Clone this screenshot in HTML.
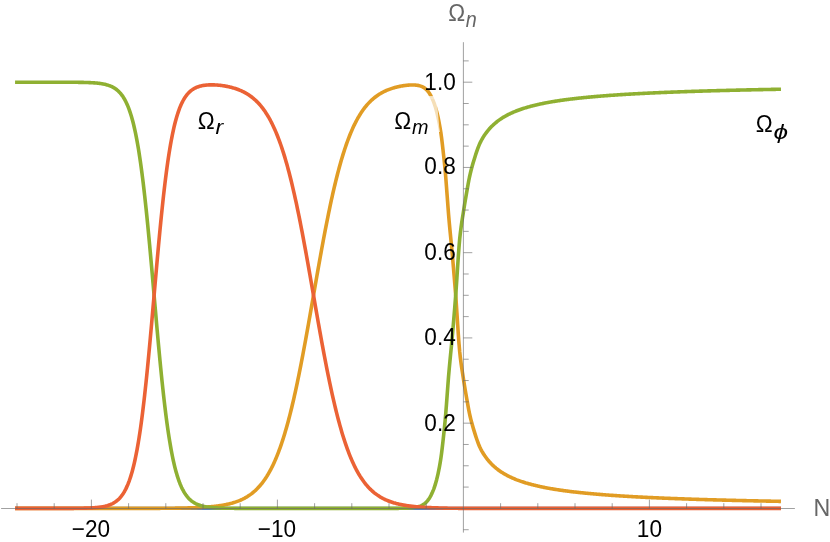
<!DOCTYPE html>
<html><head><meta charset="utf-8"><title>Plot</title>
<style>
html,body{margin:0;padding:0;background:#fff;}
body{width:830px;height:542px;overflow:hidden;position:relative;font-family:"Liberation Sans",sans-serif;}
svg{position:absolute;left:0;top:0;}
text{font-family:"Liberation Sans",sans-serif;}
</style></head><body>
<svg width="830" height="542" viewBox="0 0 830 542">
<rect width="830" height="542" fill="#fff"/>
<g fill="none" stroke-width="3.6" stroke-linejoin="round" stroke-linecap="butt">
<path d="M15.06,508.40 L780.97,508.40" stroke="#5E81B5" stroke-width="3.4"/>
<path d="M15.06,508.40 L15.76,508.40 L16.45,508.40 L17.15,508.40 L17.85,508.40 L18.55,508.40 L19.24,508.40 L19.94,508.40 L20.64,508.40 L21.33,508.40 L22.03,508.40 L22.73,508.40 L23.42,508.40 L24.12,508.40 L24.82,508.40 L25.51,508.40 L26.21,508.40 L26.91,508.40 L27.61,508.40 L28.30,508.40 L29.00,508.40 L29.70,508.40 L30.39,508.40 L31.09,508.40 L31.79,508.40 L32.48,508.40 L33.18,508.40 L33.88,508.40 L34.57,508.40 L35.27,508.40 L35.97,508.40 L36.67,508.40 L37.36,508.40 L38.06,508.40 L38.76,508.40 L39.45,508.40 L40.15,508.40 L40.85,508.40 L41.54,508.40 L42.24,508.40 L42.94,508.40 L43.63,508.40 L44.33,508.40 L45.03,508.40 L45.73,508.40 L46.42,508.40 L47.12,508.40 L47.82,508.40 L48.51,508.40 L49.21,508.40 L49.91,508.40 L50.60,508.40 L51.30,508.40 L52.00,508.40 L52.69,508.40 L53.39,508.40 L54.09,508.40 L54.79,508.40 L55.48,508.40 L56.18,508.40 L56.88,508.40 L57.57,508.40 L58.27,508.40 L58.97,508.40 L59.66,508.40 L60.36,508.40 L61.06,508.40 L61.75,508.40 L62.45,508.40 L63.15,508.40 L63.85,508.40 L64.54,508.40 L65.24,508.40 L65.94,508.40 L66.63,508.40 L67.33,508.40 L68.03,508.40 L68.72,508.40 L69.42,508.40 L70.12,508.40 L70.81,508.40 L71.51,508.40 L72.21,508.40 L72.91,508.40 L73.60,508.40 L74.30,508.40 L75.00,508.40 L75.69,508.40 L76.39,508.40 L77.09,508.40 L77.78,508.40 L78.48,508.40 L79.18,508.40 L79.87,508.40 L80.57,508.40 L81.27,508.40 L81.96,508.40 L82.66,508.40 L83.36,508.40 L84.06,508.40 L84.75,508.40 L85.45,508.40 L86.15,508.40 L86.84,508.40 L87.54,508.40 L88.24,508.40 L88.93,508.40 L89.63,508.40 L90.33,508.40 L91.02,508.40 L91.72,508.40 L92.42,508.40 L93.12,508.40 L93.81,508.40 L94.51,508.40 L95.21,508.40 L95.90,508.40 L96.60,508.40 L97.30,508.40 L97.99,508.40 L98.69,508.40 L99.39,508.40 L100.08,508.40 L100.78,508.40 L101.48,508.40 L102.18,508.40 L102.87,508.40 L103.57,508.40 L104.27,508.40 L104.96,508.40 L105.66,508.40 L106.36,508.40 L107.05,508.40 L107.75,508.40 L108.45,508.40 L109.14,508.40 L109.84,508.40 L110.54,508.40 L111.24,508.40 L111.93,508.40 L112.63,508.40 L113.33,508.40 L114.02,508.40 L114.72,508.40 L115.42,508.40 L116.11,508.40 L116.81,508.40 L117.51,508.40 L118.20,508.40 L118.90,508.40 L119.60,508.40 L120.30,508.40 L120.99,508.40 L121.69,508.40 L122.39,508.40 L123.08,508.40 L123.78,508.40 L124.48,508.40 L125.17,508.40 L125.87,508.40 L126.57,508.40 L127.26,508.40 L127.96,508.40 L128.66,508.40 L129.36,508.40 L130.05,508.40 L130.75,508.40 L131.45,508.40 L132.14,508.40 L132.84,508.40 L133.54,508.40 L134.23,508.40 L134.93,508.40 L135.63,508.40 L136.32,508.40 L137.02,508.40 L137.72,508.40 L138.42,508.39 L139.11,508.39 L139.81,508.39 L140.51,508.39 L141.20,508.39 L141.90,508.39 L142.60,508.39 L143.29,508.39 L143.99,508.39 L144.69,508.39 L145.38,508.39 L146.08,508.38 L146.78,508.38 L147.48,508.38 L148.17,508.38 L148.87,508.38 L149.57,508.38 L150.26,508.37 L150.96,508.37 L151.66,508.37 L152.35,508.37 L153.05,508.36 L153.75,508.36 L154.44,508.36 L155.14,508.35 L155.84,508.35 L156.53,508.35 L157.23,508.34 L157.93,508.34 L158.63,508.34 L159.32,508.33 L160.02,508.33 L160.72,508.32 L161.41,508.32 L162.11,508.31 L162.81,508.31 L163.50,508.30 L164.20,508.30 L164.90,508.29 L165.59,508.28 L166.29,508.28 L166.99,508.27 L167.69,508.26 L168.38,508.26 L169.08,508.25 L169.78,508.24 L170.47,508.23 L171.17,508.23 L171.87,508.22 L172.56,508.21 L173.26,508.20 L173.96,508.19 L174.65,508.18 L175.35,508.17 L176.05,508.16 L176.75,508.15 L177.44,508.14 L178.14,508.13 L178.84,508.11 L179.53,508.10 L180.23,508.09 L180.93,508.08 L181.62,508.06 L182.32,508.05 L183.02,508.03 L183.71,508.02 L184.41,508.00 L185.11,507.99 L185.81,507.97 L186.50,507.95 L187.20,507.93 L187.90,507.92 L188.59,507.90 L189.29,507.88 L189.99,507.86 L190.68,507.83 L191.38,507.81 L192.08,507.79 L192.77,507.76 L193.47,507.74 L194.17,507.71 L194.87,507.69 L195.56,507.66 L196.26,507.63 L196.96,507.60 L197.65,507.57 L198.35,507.54 L199.05,507.50 L199.74,507.47 L200.44,507.43 L201.14,507.39 L201.83,507.36 L202.53,507.32 L203.23,507.27 L203.93,507.23 L204.62,507.19 L205.32,507.14 L206.02,507.09 L206.71,507.04 L207.41,506.99 L208.11,506.93 L208.80,506.88 L209.50,506.82 L210.20,506.76 L210.89,506.70 L211.59,506.63 L212.29,506.56 L212.99,506.49 L213.68,506.42 L214.38,506.35 L215.08,506.27 L215.77,506.19 L216.47,506.10 L217.17,506.02 L217.86,505.92 L218.56,505.83 L219.26,505.73 L219.95,505.63 L220.65,505.53 L221.35,505.42 L222.05,505.30 L222.74,505.19 L223.44,505.06 L224.14,504.94 L224.83,504.81 L225.53,504.67 L226.23,504.53 L226.92,504.38 L227.62,504.23 L228.32,504.07 L229.01,503.91 L229.71,503.74 L230.41,503.56 L231.10,503.38 L231.80,503.19 L232.50,503.00 L233.20,502.79 L233.89,502.58 L234.59,502.36 L235.29,502.13 L235.98,501.90 L236.68,501.65 L237.38,501.40 L238.07,501.14 L238.77,500.87 L239.47,500.58 L240.16,500.29 L240.86,499.99 L241.56,499.67 L242.26,499.35 L242.95,499.01 L243.65,498.66 L244.35,498.30 L245.04,497.92 L245.74,497.53 L246.44,497.12 L247.13,496.71 L247.83,496.27 L248.53,495.82 L249.22,495.36 L249.92,494.87 L250.62,494.38 L251.32,493.86 L252.01,493.32 L252.71,492.77 L253.41,492.19 L254.10,491.60 L254.80,490.98 L255.50,490.35 L256.19,489.69 L256.89,489.01 L257.59,488.30 L258.28,487.57 L258.98,486.82 L259.68,486.04 L260.38,485.23 L261.07,484.39 L261.77,483.53 L262.47,482.64 L263.16,481.72 L263.86,480.76 L264.56,479.78 L265.25,478.76 L265.95,477.71 L266.65,476.63 L267.34,475.51 L268.04,474.35 L268.74,473.16 L269.44,471.93 L270.13,470.66 L270.83,469.35 L271.53,468.00 L272.22,466.61 L272.92,465.18 L273.62,463.70 L274.31,462.18 L275.01,460.61 L275.71,459.00 L276.40,457.34 L277.10,455.63 L277.80,453.87 L278.50,452.07 L279.19,450.21 L279.89,448.30 L280.59,446.34 L281.28,444.33 L281.98,442.26 L282.68,440.14 L283.37,437.97 L284.07,435.73 L284.77,433.45 L285.46,431.11 L286.16,428.71 L286.86,426.25 L287.56,423.74 L288.25,421.17 L288.95,418.54 L289.65,415.85 L290.34,413.11 L291.04,410.31 L291.74,407.45 L292.43,404.53 L293.13,401.56 L293.83,398.54 L294.52,395.45 L295.22,392.31 L295.92,389.12 L296.62,385.88 L297.31,382.58 L298.01,379.23 L298.71,375.84 L299.40,372.39 L300.10,368.90 L300.80,365.36 L301.49,361.78 L302.19,358.15 L302.89,354.49 L303.58,350.78 L304.28,347.04 L304.98,343.27 L305.68,339.46 L306.37,335.63 L307.07,331.77 L307.77,327.88 L308.46,323.97 L309.16,320.04 L309.86,316.09 L310.55,312.13 L311.25,308.16 L311.95,304.18 L312.64,300.19 L313.34,296.20 L314.04,292.21 L314.73,288.22 L315.43,284.23 L316.13,280.25 L316.83,276.29 L317.52,272.33 L318.22,268.40 L318.92,264.48 L319.61,260.58 L320.31,256.71 L321.01,252.86 L321.70,249.04 L322.40,245.25 L323.10,241.50 L323.79,237.78 L324.49,234.09 L325.19,230.45 L325.89,226.85 L326.58,223.29 L327.28,219.78 L327.98,216.31 L328.67,212.89 L329.37,209.52 L330.07,206.20 L330.76,202.93 L331.46,199.72 L332.16,196.55 L332.85,193.45 L333.55,190.39 L334.25,187.40 L334.95,184.46 L335.64,181.57 L336.34,178.75 L337.04,175.98 L337.73,173.26 L338.43,170.61 L339.13,168.01 L339.82,165.47 L340.52,162.99 L341.22,160.57 L341.91,158.20 L342.61,155.89 L343.31,153.63 L344.01,151.43 L344.70,149.29 L345.40,147.20 L346.10,145.16 L346.79,143.17 L347.49,141.24 L348.19,139.36 L348.88,137.53 L349.58,135.75 L350.28,134.02 L350.97,132.34 L351.67,130.71 L352.37,129.12 L353.07,127.58 L353.76,126.08 L354.46,124.63 L355.16,123.22 L355.85,121.85 L356.55,120.52 L357.25,119.24 L357.94,117.99 L358.64,116.78 L359.34,115.61 L360.03,114.47 L360.73,113.37 L361.43,112.31 L362.13,111.28 L362.82,110.28 L363.52,109.31 L364.22,108.37 L364.91,107.47 L365.61,106.59 L366.31,105.75 L367.00,104.93 L367.70,104.13 L368.40,103.37 L369.09,102.63 L369.79,101.91 L370.49,101.22 L371.19,100.55 L371.88,99.90 L372.58,99.28 L373.28,98.67 L373.97,98.09 L374.67,97.53 L375.37,96.98 L376.06,96.46 L376.76,95.95 L377.46,95.46 L378.15,94.99 L378.85,94.53 L379.55,94.09 L380.25,93.67 L380.94,93.26 L381.64,92.86 L382.34,92.48 L383.03,92.11 L383.73,91.75 L384.43,91.41 L385.12,91.08 L385.82,90.76 L386.52,90.46 L387.21,90.16 L387.91,89.87 L388.61,89.60 L389.30,89.33 L390.00,89.08 L390.70,88.83 L391.40,88.59 L392.09,88.37 L392.79,88.15 L393.49,87.93 L394.18,87.73 L394.88,87.54 L395.58,87.35 L396.27,87.17 L396.97,86.99 L397.67,86.83 L398.36,86.67 L399.06,86.52 L399.76,86.37 L400.46,86.23 L401.15,86.10 L401.85,85.98 L402.55,85.86 L403.24,85.75 L403.94,85.64 L404.64,85.54 L405.33,85.45 L406.03,85.37 L406.73,85.29 L407.42,85.22 L408.12,85.15 L408.82,85.10 L409.52,85.05 L410.21,85.01 L410.91,84.98 L411.61,84.96 L412.30,84.96 L413.00,84.96 L413.70,84.97 L414.39,85.00 L415.09,85.04 L415.79,85.10 L416.48,85.18 L417.18,85.27 L417.88,85.38 L418.58,85.52 L419.27,85.68 L419.97,85.87 L420.67,86.10 L421.36,86.35 L422.06,86.64 L422.76,86.98 L423.45,87.36 L424.15,87.79 L424.85,88.27 L425.54,88.81 L426.24,89.43 L426.94,90.11 L427.64,90.89 L428.33,91.75 L429.03,92.72 L429.73,93.79 L430.42,94.97 L431.12,96.27 L431.82,97.69 L432.51,99.22 L433.21,100.88 L433.91,102.68 L434.60,104.64 L435.30,106.78 L436.00,109.13 L436.70,111.69 L437.39,114.47 L438.09,117.51 L438.79,120.85 L439.48,124.48 L440.18,128.45 L440.88,132.84 L441.57,137.79 L442.27,143.47 L442.97,149.60 L443.66,155.86 L444.36,162.36 L445.06,169.41 L445.76,177.41 L446.45,186.30 L447.15,195.71 L447.85,205.18 L448.54,214.17 L449.24,222.26 L449.94,229.73 L450.63,236.85 L451.33,243.93 L452.03,251.27 L452.72,259.17 L453.42,267.28 L454.12,275.57 L454.82,284.10 L455.51,292.96 L456.21,302.46 L456.91,312.89 L457.60,323.66 L458.30,334.10 L459.00,343.61 L459.69,351.64 L460.39,358.02 L461.09,363.48 L461.78,368.32 L462.48,372.81 L463.18,377.20 L463.87,381.67 L464.57,386.02 L465.27,390.22 L465.97,394.29 L466.66,398.26 L467.36,402.19 L468.06,406.11 L468.75,409.88 L469.45,413.37 L470.15,416.50 L470.84,419.38 L471.54,422.07 L472.24,424.60 L472.93,427.02 L473.63,429.36 L474.33,431.65 L475.03,433.90 L475.72,436.09 L476.42,438.21 L477.12,440.24 L477.81,442.17 L478.51,444.00 L479.21,445.70 L479.90,447.28 L480.60,448.72 L481.30,450.07 L481.99,451.35 L482.69,452.56 L483.39,453.70 L484.09,454.79 L484.78,455.83 L485.48,456.82 L486.18,457.78 L486.87,458.69 L487.57,459.57 L488.27,460.43 L488.96,461.25 L489.66,462.04 L490.36,462.80 L491.05,463.54 L491.75,464.25 L492.45,464.94 L493.15,465.61 L493.84,466.25 L494.54,466.87 L495.24,467.47 L495.93,468.06 L496.63,468.62 L497.33,469.17 L498.02,469.70 L498.72,470.22 L499.42,470.72 L500.11,471.20 L500.81,471.68 L501.51,472.14 L502.21,472.59 L502.90,473.02 L503.60,473.45 L504.30,473.86 L504.99,474.26 L505.69,474.66 L506.39,475.04 L507.08,475.42 L507.78,475.78 L508.48,476.14 L509.17,476.49 L509.87,476.83 L510.57,477.16 L511.27,477.49 L511.96,477.81 L512.66,478.12 L513.36,478.42 L514.05,478.72 L514.75,479.01 L515.45,479.30 L516.14,479.57 L516.84,479.85 L517.54,480.11 L518.23,480.37 L518.93,480.62 L519.63,480.87 L520.33,481.11 L521.02,481.35 L521.72,481.59 L522.42,481.82 L523.11,482.05 L523.81,482.27 L524.51,482.49 L525.20,482.70 L525.90,482.92 L526.60,483.12 L527.29,483.33 L527.99,483.53 L528.69,483.73 L529.39,483.92 L530.08,484.11 L530.78,484.30 L531.48,484.49 L532.17,484.67 L532.87,484.85 L533.57,485.03 L534.26,485.20 L534.96,485.37 L535.66,485.54 L536.35,485.71 L537.05,485.87 L537.75,486.03 L538.44,486.19 L539.14,486.34 L539.84,486.49 L540.54,486.64 L541.23,486.79 L541.93,486.94 L542.63,487.08 L543.32,487.22 L544.02,487.36 L544.72,487.50 L545.41,487.64 L546.11,487.77 L546.81,487.90 L547.50,488.03 L548.20,488.16 L548.90,488.28 L549.60,488.41 L550.29,488.53 L550.99,488.65 L551.69,488.77 L552.38,488.89 L553.08,489.01 L553.78,489.12 L554.47,489.24 L555.17,489.35 L555.87,489.46 L556.56,489.57 L557.26,489.68 L557.96,489.78 L558.66,489.89 L559.35,489.99 L560.05,490.10 L560.75,490.20 L561.44,490.30 L562.14,490.40 L562.84,490.50 L563.53,490.60 L564.23,490.69 L564.93,490.79 L565.62,490.88 L566.32,490.98 L567.02,491.07 L567.72,491.16 L568.41,491.25 L569.11,491.33 L569.81,491.42 L570.50,491.51 L571.20,491.59 L571.90,491.68 L572.59,491.76 L573.29,491.84 L573.99,491.92 L574.68,492.00 L575.38,492.08 L576.08,492.16 L576.78,492.23 L577.47,492.31 L578.17,492.38 L578.87,492.46 L579.56,492.53 L580.26,492.61 L580.96,492.68 L581.65,492.75 L582.35,492.82 L583.05,492.90 L583.74,492.97 L584.44,493.04 L585.14,493.10 L585.84,493.17 L586.53,493.24 L587.23,493.31 L587.93,493.37 L588.62,493.44 L589.32,493.51 L590.02,493.57 L590.71,493.64 L591.41,493.70 L592.11,493.76 L592.80,493.83 L593.50,493.89 L594.20,493.95 L594.90,494.01 L595.59,494.07 L596.29,494.13 L596.99,494.19 L597.68,494.25 L598.38,494.31 L599.08,494.37 L599.77,494.42 L600.47,494.48 L601.17,494.54 L601.86,494.59 L602.56,494.65 L603.26,494.70 L603.96,494.76 L604.65,494.81 L605.35,494.86 L606.05,494.92 L606.74,494.97 L607.44,495.02 L608.14,495.07 L608.83,495.13 L609.53,495.18 L610.23,495.23 L610.92,495.28 L611.62,495.33 L612.32,495.38 L613.02,495.42 L613.71,495.47 L614.41,495.52 L615.11,495.57 L615.80,495.62 L616.50,495.66 L617.20,495.71 L617.89,495.75 L618.59,495.80 L619.29,495.85 L619.98,495.89 L620.68,495.93 L621.38,495.98 L622.07,496.02 L622.77,496.07 L623.47,496.11 L624.17,496.15 L624.86,496.19 L625.56,496.24 L626.26,496.28 L626.95,496.32 L627.65,496.36 L628.35,496.40 L629.04,496.44 L629.74,496.48 L630.44,496.52 L631.13,496.56 L631.83,496.60 L632.53,496.64 L633.23,496.68 L633.92,496.72 L634.62,496.76 L635.32,496.79 L636.01,496.83 L636.71,496.87 L637.41,496.91 L638.10,496.94 L638.80,496.98 L639.50,497.02 L640.19,497.05 L640.89,497.09 L641.59,497.12 L642.29,497.16 L642.98,497.19 L643.68,497.23 L644.38,497.26 L645.07,497.30 L645.77,497.33 L646.47,497.37 L647.16,497.40 L647.86,497.43 L648.56,497.47 L649.25,497.50 L649.95,497.53 L650.65,497.57 L651.35,497.60 L652.04,497.63 L652.74,497.66 L653.44,497.70 L654.13,497.73 L654.83,497.76 L655.53,497.79 L656.22,497.82 L656.92,497.85 L657.62,497.88 L658.31,497.91 L659.01,497.94 L659.71,497.97 L660.41,498.00 L661.10,498.03 L661.80,498.06 L662.50,498.09 L663.19,498.12 L663.89,498.15 L664.59,498.18 L665.28,498.21 L665.98,498.24 L666.68,498.26 L667.37,498.29 L668.07,498.32 L668.77,498.35 L669.47,498.38 L670.16,498.40 L670.86,498.43 L671.56,498.46 L672.25,498.48 L672.95,498.51 L673.65,498.54 L674.34,498.56 L675.04,498.59 L675.74,498.62 L676.43,498.64 L677.13,498.67 L677.83,498.69 L678.53,498.72 L679.22,498.75 L679.92,498.77 L680.62,498.80 L681.31,498.82 L682.01,498.85 L682.71,498.87 L683.40,498.90 L684.10,498.92 L684.80,498.94 L685.49,498.97 L686.19,498.99 L686.89,499.02 L687.59,499.04 L688.28,499.06 L688.98,499.09 L689.68,499.11 L690.37,499.13 L691.07,499.16 L691.77,499.18 L692.46,499.20 L693.16,499.23 L693.86,499.25 L694.55,499.27 L695.25,499.29 L695.95,499.32 L696.64,499.34 L697.34,499.36 L698.04,499.38 L698.74,499.40 L699.43,499.43 L700.13,499.45 L700.83,499.47 L701.52,499.49 L702.22,499.51 L702.92,499.53 L703.61,499.55 L704.31,499.57 L705.01,499.60 L705.70,499.62 L706.40,499.64 L707.10,499.66 L707.80,499.68 L708.49,499.70 L709.19,499.72 L709.89,499.74 L710.58,499.76 L711.28,499.78 L711.98,499.80 L712.67,499.82 L713.37,499.84 L714.07,499.86 L714.76,499.88 L715.46,499.90 L716.16,499.91 L716.86,499.93 L717.55,499.95 L718.25,499.97 L718.95,499.99 L719.64,500.01 L720.34,500.03 L721.04,500.05 L721.73,500.06 L722.43,500.08 L723.13,500.10 L723.82,500.12 L724.52,500.14 L725.22,500.16 L725.92,500.17 L726.61,500.19 L727.31,500.21 L728.01,500.23 L728.70,500.25 L729.40,500.26 L730.10,500.28 L730.79,500.30 L731.49,500.31 L732.19,500.33 L732.88,500.35 L733.58,500.37 L734.28,500.38 L734.98,500.40 L735.67,500.42 L736.37,500.43 L737.07,500.45 L737.76,500.47 L738.46,500.48 L739.16,500.50 L739.85,500.52 L740.55,500.53 L741.25,500.55 L741.94,500.56 L742.64,500.58 L743.34,500.60 L744.04,500.61 L744.73,500.63 L745.43,500.64 L746.13,500.66 L746.82,500.68 L747.52,500.69 L748.22,500.71 L748.91,500.72 L749.61,500.74 L750.31,500.75 L751.00,500.77 L751.70,500.78 L752.40,500.80 L753.10,500.81 L753.79,500.83 L754.49,500.84 L755.19,500.86 L755.88,500.87 L756.58,500.89 L757.28,500.90 L757.97,500.92 L758.67,500.93 L759.37,500.95 L760.06,500.96 L760.76,500.98 L761.46,500.99 L762.16,501.00 L762.85,501.02 L763.55,501.03 L764.25,501.05 L764.94,501.06 L765.64,501.07 L766.34,501.09 L767.03,501.10 L767.73,501.12 L768.43,501.13 L769.12,501.14 L769.82,501.16 L770.52,501.17 L771.21,501.18 L771.91,501.20 L772.61,501.21 L773.31,501.22 L774.00,501.24 L774.70,501.25 L775.40,501.26 L776.09,501.28 L776.79,501.29 L777.49,501.30 L778.18,501.32 L778.88,501.33 L779.58,501.34 L780.27,501.36 L780.97,501.37" stroke="#E19C24"/>
<path d="M426,95.9 L435,95.9 L437.2,104 L439.2,127 L440.0,132 L432,132 Z" fill="#fff" fill-opacity="0.68" stroke="none"/>
<path d="M427,98.1 L436.5,98.1" stroke="#fff" stroke-opacity="0.55" stroke-width="0.7"/>
<path d="M15.06,82.20 L15.76,82.20 L16.45,82.20 L17.15,82.20 L17.85,82.20 L18.55,82.20 L19.24,82.20 L19.94,82.20 L20.64,82.20 L21.33,82.20 L22.03,82.20 L22.73,82.20 L23.42,82.20 L24.12,82.20 L24.82,82.20 L25.51,82.20 L26.21,82.20 L26.91,82.20 L27.61,82.20 L28.30,82.20 L29.00,82.20 L29.70,82.20 L30.39,82.20 L31.09,82.20 L31.79,82.20 L32.48,82.20 L33.18,82.20 L33.88,82.20 L34.57,82.20 L35.27,82.20 L35.97,82.20 L36.67,82.20 L37.36,82.20 L38.06,82.20 L38.76,82.20 L39.45,82.20 L40.15,82.20 L40.85,82.20 L41.54,82.20 L42.24,82.20 L42.94,82.20 L43.63,82.20 L44.33,82.20 L45.03,82.20 L45.73,82.20 L46.42,82.20 L47.12,82.20 L47.82,82.20 L48.51,82.21 L49.21,82.21 L49.91,82.21 L50.60,82.21 L51.30,82.21 L52.00,82.21 L52.69,82.21 L53.39,82.21 L54.09,82.21 L54.79,82.21 L55.48,82.21 L56.18,82.21 L56.88,82.21 L57.57,82.21 L58.27,82.21 L58.97,82.22 L59.66,82.22 L60.36,82.22 L61.06,82.22 L61.75,82.22 L62.45,82.22 L63.15,82.22 L63.85,82.23 L64.54,82.23 L65.24,82.23 L65.94,82.23 L66.63,82.24 L67.33,82.24 L68.03,82.24 L68.72,82.24 L69.42,82.25 L70.12,82.25 L70.81,82.26 L71.51,82.26 L72.21,82.26 L72.91,82.27 L73.60,82.27 L74.30,82.28 L75.00,82.29 L75.69,82.29 L76.39,82.30 L77.09,82.31 L77.78,82.32 L78.48,82.33 L79.18,82.34 L79.87,82.35 L80.57,82.36 L81.27,82.37 L81.96,82.38 L82.66,82.40 L83.36,82.41 L84.06,82.43 L84.75,82.45 L85.45,82.47 L86.15,82.49 L86.84,82.51 L87.54,82.53 L88.24,82.56 L88.93,82.59 L89.63,82.62 L90.33,82.65 L91.02,82.68 L91.72,82.72 L92.42,82.76 L93.12,82.80 L93.81,82.85 L94.51,82.90 L95.21,82.96 L95.90,83.02 L96.60,83.08 L97.30,83.15 L97.99,83.22 L98.69,83.30 L99.39,83.38 L100.08,83.48 L100.78,83.58 L101.48,83.68 L102.18,83.80 L102.87,83.92 L103.57,84.05 L104.27,84.20 L104.96,84.35 L105.66,84.52 L106.36,84.70 L107.05,84.89 L107.75,85.10 L108.45,85.32 L109.14,85.57 L109.84,85.82 L110.54,86.10 L111.24,86.41 L111.93,86.73 L112.63,87.08 L113.33,87.45 L114.02,87.86 L114.72,88.29 L115.42,88.76 L116.11,89.26 L116.81,89.80 L117.51,90.38 L118.20,91.00 L118.90,91.67 L119.60,92.39 L120.30,93.16 L120.99,93.99 L121.69,94.88 L122.39,95.84 L123.08,96.86 L123.78,97.96 L124.48,99.14 L125.17,100.40 L125.87,101.75 L126.57,103.20 L127.26,104.74 L127.96,106.40 L128.66,108.17 L129.36,110.06 L130.05,112.07 L130.75,114.22 L131.45,116.51 L132.14,118.95 L132.84,121.55 L133.54,124.31 L134.23,127.24 L134.93,130.35 L135.63,133.64 L136.32,137.13 L137.02,140.82 L137.72,144.71 L138.42,148.81 L139.11,153.14 L139.81,157.68 L140.51,162.45 L141.20,167.44 L141.90,172.67 L142.60,178.12 L143.29,183.81 L143.99,189.72 L144.69,195.86 L145.38,202.21 L146.08,208.78 L146.78,215.54 L147.48,222.51 L148.17,229.65 L148.87,236.96 L149.57,244.42 L150.26,252.01 L150.96,259.72 L151.66,267.53 L152.35,275.41 L153.05,283.35 L153.75,291.33 L154.44,299.31 L155.14,307.28 L155.84,315.22 L156.53,323.11 L157.23,330.91 L157.93,338.63 L158.63,346.22 L159.32,353.68 L160.02,360.99 L160.72,368.13 L161.41,375.09 L162.11,381.86 L162.81,388.42 L163.50,394.78 L164.20,400.91 L164.90,406.82 L165.59,412.51 L166.29,417.96 L166.99,423.19 L167.69,428.18 L168.38,432.95 L169.08,437.49 L169.78,441.81 L170.47,445.92 L171.17,449.81 L171.87,453.49 L172.56,456.98 L173.26,460.27 L173.96,463.38 L174.65,466.31 L175.35,469.07 L176.05,471.67 L176.75,474.11 L177.44,476.40 L178.14,478.55 L178.84,480.56 L179.53,482.45 L180.23,484.22 L180.93,485.87 L181.62,487.42 L182.32,488.87 L183.02,490.22 L183.71,491.48 L184.41,492.65 L185.11,493.75 L185.81,494.78 L186.50,495.73 L187.20,496.62 L187.90,497.45 L188.59,498.22 L189.29,498.94 L189.99,499.61 L190.68,500.23 L191.38,500.81 L192.08,501.35 L192.77,501.85 L193.47,502.32 L194.17,502.75 L194.87,503.16 L195.56,503.53 L196.26,503.88 L196.96,504.20 L197.65,504.50 L198.35,504.78 L199.05,505.04 L199.74,505.28 L200.44,505.51 L201.14,505.71 L201.83,505.91 L202.53,506.09 L203.23,506.25 L203.93,506.41 L204.62,506.55 L205.32,506.68 L206.02,506.81 L206.71,506.92 L207.41,507.03 L208.11,507.13 L208.80,507.22 L209.50,507.30 L210.20,507.38 L210.89,507.46 L211.59,507.53 L212.29,507.59 L212.99,507.65 L213.68,507.70 L214.38,507.75 L215.08,507.80 L215.77,507.84 L216.47,507.88 L217.17,507.92 L217.86,507.95 L218.56,507.99 L219.26,508.02 L219.95,508.04 L220.65,508.07 L221.35,508.09 L222.05,508.12 L222.74,508.14 L223.44,508.16 L224.14,508.17 L224.83,508.19 L225.53,508.21 L226.23,508.22 L226.92,508.23 L227.62,508.24 L228.32,508.26 L229.01,508.27 L229.71,508.28 L230.41,508.28 L231.10,508.29 L231.80,508.30 L232.50,508.31 L233.20,508.31 L233.89,508.32 L234.59,508.33 L235.29,508.33 L235.98,508.34 L236.68,508.34 L237.38,508.35 L238.07,508.35 L238.77,508.35 L239.47,508.36 L240.16,508.36 L240.86,508.36 L241.56,508.37 L242.26,508.37 L242.95,508.37 L243.65,508.37 L244.35,508.37 L245.04,508.38 L245.74,508.38 L246.44,508.38 L247.13,508.38 L247.83,508.38 L248.53,508.38 L249.22,508.39 L249.92,508.39 L250.62,508.39 L251.32,508.39 L252.01,508.39 L252.71,508.39 L253.41,508.39 L254.10,508.39 L254.80,508.39 L255.50,508.39 L256.19,508.39 L256.89,508.39 L257.59,508.39 L258.28,508.39 L258.98,508.39 L259.68,508.40 L260.38,508.40 L261.07,508.40 L261.77,508.40 L262.47,508.40 L263.16,508.40 L263.86,508.40 L264.56,508.40 L265.25,508.40 L265.95,508.40 L266.65,508.40 L267.34,508.40 L268.04,508.40 L268.74,508.40 L269.44,508.40 L270.13,508.40 L270.83,508.40 L271.53,508.40 L272.22,508.40 L272.92,508.40 L273.62,508.40 L274.31,508.40 L275.01,508.40 L275.71,508.40 L276.40,508.40 L277.10,508.40 L277.80,508.40 L278.50,508.40 L279.19,508.40 L279.89,508.40 L280.59,508.40 L281.28,508.40 L281.98,508.40 L282.68,508.40 L283.37,508.40 L284.07,508.40 L284.77,508.40 L285.46,508.40 L286.16,508.40 L286.86,508.40 L287.56,508.40 L288.25,508.40 L288.95,508.40 L289.65,508.40 L290.34,508.40 L291.04,508.40 L291.74,508.40 L292.43,508.40 L293.13,508.40 L293.83,508.40 L294.52,508.40 L295.22,508.40 L295.92,508.40 L296.62,508.40 L297.31,508.40 L298.01,508.40 L298.71,508.40 L299.40,508.40 L300.10,508.40 L300.80,508.40 L301.49,508.40 L302.19,508.40 L302.89,508.40 L303.58,508.40 L304.28,508.40 L304.98,508.40 L305.68,508.40 L306.37,508.40 L307.07,508.40 L307.77,508.40 L308.46,508.40 L309.16,508.40 L309.86,508.40 L310.55,508.40 L311.25,508.40 L311.95,508.40 L312.64,508.40 L313.34,508.40 L314.04,508.40 L314.73,508.40 L315.43,508.40 L316.13,508.40 L316.83,508.40 L317.52,508.40 L318.22,508.40 L318.92,508.40 L319.61,508.40 L320.31,508.40 L321.01,508.40 L321.70,508.40 L322.40,508.40 L323.10,508.40 L323.79,508.40 L324.49,508.40 L325.19,508.40 L325.89,508.40 L326.58,508.40 L327.28,508.40 L327.98,508.40 L328.67,508.40 L329.37,508.40 L330.07,508.40 L330.76,508.40 L331.46,508.40 L332.16,508.40 L332.85,508.40 L333.55,508.40 L334.25,508.40 L334.95,508.40 L335.64,508.40 L336.34,508.40 L337.04,508.40 L337.73,508.40 L338.43,508.40 L339.13,508.40 L339.82,508.40 L340.52,508.40 L341.22,508.40 L341.91,508.40 L342.61,508.40 L343.31,508.40 L344.01,508.40 L344.70,508.40 L345.40,508.40 L346.10,508.40 L346.79,508.40 L347.49,508.40 L348.19,508.40 L348.88,508.40 L349.58,508.40 L350.28,508.40 L350.97,508.40 L351.67,508.40 L352.37,508.40 L353.07,508.40 L353.76,508.40 L354.46,508.40 L355.16,508.40 L355.85,508.40 L356.55,508.40 L357.25,508.40 L357.94,508.40 L358.64,508.40 L359.34,508.40 L360.03,508.40 L360.73,508.40 L361.43,508.40 L362.13,508.40 L362.82,508.40 L363.52,508.40 L364.22,508.40 L364.91,508.40 L365.61,508.40 L366.31,508.40 L367.00,508.40 L367.70,508.40 L368.40,508.40 L369.09,508.40 L369.79,508.40 L370.49,508.40 L371.19,508.40 L371.88,508.40 L372.58,508.40 L373.28,508.40 L373.97,508.40 L374.67,508.40 L375.37,508.40 L376.06,508.40 L376.76,508.40 L377.46,508.40 L378.15,508.40 L378.85,508.40 L379.55,508.40 L380.25,508.40 L380.94,508.40 L381.64,508.40 L382.34,508.39 L383.03,508.39 L383.73,508.39 L384.43,508.39 L385.12,508.39 L385.82,508.39 L386.52,508.39 L387.21,508.39 L387.91,508.39 L388.61,508.39 L389.30,508.38 L390.00,508.38 L390.70,508.38 L391.40,508.38 L392.09,508.37 L392.79,508.37 L393.49,508.37 L394.18,508.36 L394.88,508.36 L395.58,508.36 L396.27,508.35 L396.97,508.34 L397.67,508.34 L398.36,508.33 L399.06,508.32 L399.76,508.31 L400.46,508.30 L401.15,508.29 L401.85,508.28 L402.55,508.26 L403.24,508.25 L403.94,508.23 L404.64,508.21 L405.33,508.18 L406.03,508.16 L406.73,508.13 L407.42,508.10 L408.12,508.06 L408.82,508.02 L409.52,507.97 L410.21,507.92 L410.91,507.87 L411.61,507.80 L412.30,507.73 L413.00,507.65 L413.70,507.57 L414.39,507.47 L415.09,507.35 L415.79,507.23 L416.48,507.09 L417.18,506.94 L417.88,506.76 L418.58,506.57 L419.27,506.35 L419.97,506.11 L420.67,505.83 L421.36,505.53 L422.06,505.19 L422.76,504.81 L423.45,504.38 L424.15,503.91 L424.85,503.39 L425.54,502.80 L426.24,502.15 L426.94,501.43 L427.64,500.62 L428.33,499.72 L429.03,498.72 L429.73,497.61 L430.42,496.40 L431.12,495.07 L431.82,493.62 L432.51,492.06 L433.21,490.37 L433.91,488.55 L434.60,486.56 L435.30,484.40 L436.00,482.02 L436.70,479.44 L437.39,476.64 L438.09,473.57 L438.79,470.21 L439.48,466.56 L440.18,462.57 L440.88,458.16 L441.57,453.18 L442.27,447.49 L442.97,441.34 L443.66,435.06 L444.36,428.55 L445.06,421.48 L445.76,413.46 L446.45,404.56 L447.15,395.13 L447.85,385.64 L448.54,376.64 L449.24,368.54 L449.94,361.05 L450.63,353.92 L451.33,346.83 L452.03,339.48 L452.72,331.57 L453.42,323.45 L454.12,315.16 L454.82,306.61 L455.51,297.74 L456.21,288.24 L456.91,277.79 L457.60,267.02 L458.30,256.58 L459.00,247.06 L459.69,239.02 L460.39,232.63 L461.09,227.18 L461.78,222.33 L462.48,217.84 L463.18,213.45 L463.87,208.97 L464.57,204.61 L465.27,200.42 L465.97,196.35 L466.66,192.37 L467.36,188.43 L468.06,184.51 L468.75,180.75 L469.45,177.25 L470.15,174.12 L470.84,171.24 L471.54,168.55 L472.24,166.01 L472.93,163.59 L473.63,161.25 L474.33,158.96 L475.03,156.71 L475.72,154.52 L476.42,152.40 L477.12,150.37 L477.81,148.44 L478.51,146.61 L479.21,144.91 L479.90,143.33 L480.60,141.89 L481.30,140.54 L481.99,139.26 L482.69,138.05 L483.39,136.90 L484.09,135.81 L484.78,134.77 L485.48,133.78 L486.18,132.83 L486.87,131.91 L487.57,131.03 L488.27,130.18 L488.96,129.36 L489.66,128.56 L490.36,127.80 L491.05,127.06 L491.75,126.35 L492.45,125.66 L493.15,124.99 L493.84,124.35 L494.54,123.73 L495.24,123.13 L495.93,122.54 L496.63,121.98 L497.33,121.43 L498.02,120.90 L498.72,120.39 L499.42,119.89 L500.11,119.40 L500.81,118.92 L501.51,118.46 L502.21,118.02 L502.90,117.58 L503.60,117.15 L504.30,116.74 L504.99,116.34 L505.69,115.94 L506.39,115.56 L507.08,115.19 L507.78,114.82 L508.48,114.46 L509.17,114.11 L509.87,113.77 L510.57,113.44 L511.27,113.11 L511.96,112.79 L512.66,112.48 L513.36,112.18 L514.05,111.88 L514.75,111.59 L515.45,111.30 L516.14,111.03 L516.84,110.75 L517.54,110.49 L518.23,110.23 L518.93,109.98 L519.63,109.73 L520.33,109.49 L521.02,109.25 L521.72,109.01 L522.42,108.78 L523.11,108.55 L523.81,108.33 L524.51,108.11 L525.20,107.90 L525.90,107.68 L526.60,107.48 L527.29,107.27 L527.99,107.07 L528.69,106.87 L529.39,106.68 L530.08,106.49 L530.78,106.30 L531.48,106.11 L532.17,105.93 L532.87,105.75 L533.57,105.57 L534.26,105.40 L534.96,105.23 L535.66,105.06 L536.35,104.90 L537.05,104.73 L537.75,104.57 L538.44,104.41 L539.14,104.26 L539.84,104.11 L540.54,103.96 L541.23,103.81 L541.93,103.66 L542.63,103.52 L543.32,103.38 L544.02,103.24 L544.72,103.10 L545.41,102.96 L546.11,102.83 L546.81,102.70 L547.50,102.57 L548.20,102.44 L548.90,102.32 L549.60,102.19 L550.29,102.07 L550.99,101.95 L551.69,101.83 L552.38,101.71 L553.08,101.59 L553.78,101.48 L554.47,101.36 L555.17,101.25 L555.87,101.14 L556.56,101.03 L557.26,100.92 L557.96,100.82 L558.66,100.71 L559.35,100.61 L560.05,100.50 L560.75,100.40 L561.44,100.30 L562.14,100.20 L562.84,100.10 L563.53,100.00 L564.23,99.91 L564.93,99.81 L565.62,99.72 L566.32,99.62 L567.02,99.53 L567.72,99.44 L568.41,99.35 L569.11,99.27 L569.81,99.18 L570.50,99.09 L571.20,99.01 L571.90,98.92 L572.59,98.84 L573.29,98.76 L573.99,98.68 L574.68,98.60 L575.38,98.52 L576.08,98.44 L576.78,98.37 L577.47,98.29 L578.17,98.22 L578.87,98.14 L579.56,98.07 L580.26,97.99 L580.96,97.92 L581.65,97.85 L582.35,97.78 L583.05,97.70 L583.74,97.63 L584.44,97.56 L585.14,97.50 L585.84,97.43 L586.53,97.36 L587.23,97.29 L587.93,97.23 L588.62,97.16 L589.32,97.09 L590.02,97.03 L590.71,96.96 L591.41,96.90 L592.11,96.84 L592.80,96.77 L593.50,96.71 L594.20,96.65 L594.90,96.59 L595.59,96.53 L596.29,96.47 L596.99,96.41 L597.68,96.35 L598.38,96.29 L599.08,96.23 L599.77,96.18 L600.47,96.12 L601.17,96.06 L601.86,96.01 L602.56,95.95 L603.26,95.90 L603.96,95.84 L604.65,95.79 L605.35,95.74 L606.05,95.68 L606.74,95.63 L607.44,95.58 L608.14,95.53 L608.83,95.47 L609.53,95.42 L610.23,95.37 L610.92,95.32 L611.62,95.27 L612.32,95.22 L613.02,95.18 L613.71,95.13 L614.41,95.08 L615.11,95.03 L615.80,94.98 L616.50,94.94 L617.20,94.89 L617.89,94.85 L618.59,94.80 L619.29,94.75 L619.98,94.71 L620.68,94.67 L621.38,94.62 L622.07,94.58 L622.77,94.53 L623.47,94.49 L624.17,94.45 L624.86,94.41 L625.56,94.36 L626.26,94.32 L626.95,94.28 L627.65,94.24 L628.35,94.20 L629.04,94.16 L629.74,94.12 L630.44,94.08 L631.13,94.04 L631.83,94.00 L632.53,93.96 L633.23,93.92 L633.92,93.88 L634.62,93.84 L635.32,93.81 L636.01,93.77 L636.71,93.73 L637.41,93.69 L638.10,93.66 L638.80,93.62 L639.50,93.58 L640.19,93.55 L640.89,93.51 L641.59,93.48 L642.29,93.44 L642.98,93.41 L643.68,93.37 L644.38,93.34 L645.07,93.30 L645.77,93.27 L646.47,93.23 L647.16,93.20 L647.86,93.17 L648.56,93.13 L649.25,93.10 L649.95,93.07 L650.65,93.03 L651.35,93.00 L652.04,92.97 L652.74,92.94 L653.44,92.90 L654.13,92.87 L654.83,92.84 L655.53,92.81 L656.22,92.78 L656.92,92.75 L657.62,92.72 L658.31,92.69 L659.01,92.66 L659.71,92.63 L660.41,92.60 L661.10,92.57 L661.80,92.54 L662.50,92.51 L663.19,92.48 L663.89,92.45 L664.59,92.42 L665.28,92.39 L665.98,92.36 L666.68,92.34 L667.37,92.31 L668.07,92.28 L668.77,92.25 L669.47,92.22 L670.16,92.20 L670.86,92.17 L671.56,92.14 L672.25,92.12 L672.95,92.09 L673.65,92.06 L674.34,92.04 L675.04,92.01 L675.74,91.98 L676.43,91.96 L677.13,91.93 L677.83,91.91 L678.53,91.88 L679.22,91.85 L679.92,91.83 L680.62,91.80 L681.31,91.78 L682.01,91.75 L682.71,91.73 L683.40,91.70 L684.10,91.68 L684.80,91.66 L685.49,91.63 L686.19,91.61 L686.89,91.58 L687.59,91.56 L688.28,91.54 L688.98,91.51 L689.68,91.49 L690.37,91.47 L691.07,91.44 L691.77,91.42 L692.46,91.40 L693.16,91.37 L693.86,91.35 L694.55,91.33 L695.25,91.31 L695.95,91.28 L696.64,91.26 L697.34,91.24 L698.04,91.22 L698.74,91.20 L699.43,91.17 L700.13,91.15 L700.83,91.13 L701.52,91.11 L702.22,91.09 L702.92,91.07 L703.61,91.05 L704.31,91.03 L705.01,91.00 L705.70,90.98 L706.40,90.96 L707.10,90.94 L707.80,90.92 L708.49,90.90 L709.19,90.88 L709.89,90.86 L710.58,90.84 L711.28,90.82 L711.98,90.80 L712.67,90.78 L713.37,90.76 L714.07,90.74 L714.76,90.72 L715.46,90.70 L716.16,90.69 L716.86,90.67 L717.55,90.65 L718.25,90.63 L718.95,90.61 L719.64,90.59 L720.34,90.57 L721.04,90.55 L721.73,90.54 L722.43,90.52 L723.13,90.50 L723.82,90.48 L724.52,90.46 L725.22,90.44 L725.92,90.43 L726.61,90.41 L727.31,90.39 L728.01,90.37 L728.70,90.35 L729.40,90.34 L730.10,90.32 L730.79,90.30 L731.49,90.29 L732.19,90.27 L732.88,90.25 L733.58,90.23 L734.28,90.22 L734.98,90.20 L735.67,90.18 L736.37,90.17 L737.07,90.15 L737.76,90.13 L738.46,90.12 L739.16,90.10 L739.85,90.08 L740.55,90.07 L741.25,90.05 L741.94,90.04 L742.64,90.02 L743.34,90.00 L744.04,89.99 L744.73,89.97 L745.43,89.96 L746.13,89.94 L746.82,89.92 L747.52,89.91 L748.22,89.89 L748.91,89.88 L749.61,89.86 L750.31,89.85 L751.00,89.83 L751.70,89.82 L752.40,89.80 L753.10,89.79 L753.79,89.77 L754.49,89.76 L755.19,89.74 L755.88,89.73 L756.58,89.71 L757.28,89.70 L757.97,89.68 L758.67,89.67 L759.37,89.65 L760.06,89.64 L760.76,89.62 L761.46,89.61 L762.16,89.60 L762.85,89.58 L763.55,89.57 L764.25,89.55 L764.94,89.54 L765.64,89.53 L766.34,89.51 L767.03,89.50 L767.73,89.48 L768.43,89.47 L769.12,89.46 L769.82,89.44 L770.52,89.43 L771.21,89.42 L771.91,89.40 L772.61,89.39 L773.31,89.38 L774.00,89.36 L774.70,89.35 L775.40,89.34 L776.09,89.32 L776.79,89.31 L777.49,89.30 L778.18,89.28 L778.88,89.27 L779.58,89.26 L780.27,89.24 L780.97,89.23" stroke="#8FB032"/>
<path d="M15.06,508.40 L15.76,508.40 L16.45,508.40 L17.15,508.40 L17.85,508.40 L18.55,508.40 L19.24,508.40 L19.94,508.40 L20.64,508.40 L21.33,508.40 L22.03,508.40 L22.73,508.40 L23.42,508.40 L24.12,508.40 L24.82,508.40 L25.51,508.40 L26.21,508.40 L26.91,508.40 L27.61,508.40 L28.30,508.40 L29.00,508.40 L29.70,508.40 L30.39,508.40 L31.09,508.40 L31.79,508.40 L32.48,508.40 L33.18,508.40 L33.88,508.40 L34.57,508.40 L35.27,508.40 L35.97,508.40 L36.67,508.40 L37.36,508.40 L38.06,508.40 L38.76,508.40 L39.45,508.40 L40.15,508.40 L40.85,508.40 L41.54,508.40 L42.24,508.40 L42.94,508.40 L43.63,508.40 L44.33,508.40 L45.03,508.40 L45.73,508.40 L46.42,508.40 L47.12,508.40 L47.82,508.40 L48.51,508.39 L49.21,508.39 L49.91,508.39 L50.60,508.39 L51.30,508.39 L52.00,508.39 L52.69,508.39 L53.39,508.39 L54.09,508.39 L54.79,508.39 L55.48,508.39 L56.18,508.39 L56.88,508.39 L57.57,508.39 L58.27,508.39 L58.97,508.38 L59.66,508.38 L60.36,508.38 L61.06,508.38 L61.75,508.38 L62.45,508.38 L63.15,508.38 L63.85,508.37 L64.54,508.37 L65.24,508.37 L65.94,508.37 L66.63,508.36 L67.33,508.36 L68.03,508.36 L68.72,508.36 L69.42,508.35 L70.12,508.35 L70.81,508.34 L71.51,508.34 L72.21,508.34 L72.91,508.33 L73.60,508.33 L74.30,508.32 L75.00,508.31 L75.69,508.31 L76.39,508.30 L77.09,508.29 L77.78,508.28 L78.48,508.27 L79.18,508.26 L79.87,508.25 L80.57,508.24 L81.27,508.23 L81.96,508.22 L82.66,508.20 L83.36,508.19 L84.06,508.17 L84.75,508.15 L85.45,508.13 L86.15,508.11 L86.84,508.09 L87.54,508.07 L88.24,508.04 L88.93,508.01 L89.63,507.98 L90.33,507.95 L91.02,507.92 L91.72,507.88 L92.42,507.84 L93.12,507.80 L93.81,507.75 L94.51,507.70 L95.21,507.64 L95.90,507.58 L96.60,507.52 L97.30,507.45 L97.99,507.38 L98.69,507.30 L99.39,507.22 L100.08,507.12 L100.78,507.02 L101.48,506.92 L102.18,506.80 L102.87,506.68 L103.57,506.55 L104.27,506.40 L104.96,506.25 L105.66,506.08 L106.36,505.90 L107.05,505.71 L107.75,505.50 L108.45,505.28 L109.14,505.03 L109.84,504.78 L110.54,504.50 L111.24,504.19 L111.93,503.87 L112.63,503.52 L113.33,503.15 L114.02,502.74 L114.72,502.31 L115.42,501.84 L116.11,501.34 L116.81,500.80 L117.51,500.22 L118.20,499.60 L118.90,498.93 L119.60,498.21 L120.30,497.44 L120.99,496.61 L121.69,495.72 L122.39,494.76 L123.08,493.74 L123.78,492.64 L124.48,491.46 L125.17,490.20 L125.87,488.85 L126.57,487.40 L127.26,485.86 L127.96,484.20 L128.66,482.43 L129.36,480.54 L130.05,478.53 L130.75,476.38 L131.45,474.09 L132.14,471.65 L132.84,469.05 L133.54,466.29 L134.23,463.36 L134.93,460.25 L135.63,456.96 L136.32,453.47 L137.02,449.79 L137.72,445.89 L138.42,441.79 L139.11,437.47 L139.81,432.93 L140.51,428.16 L141.20,423.17 L141.90,417.94 L142.60,412.49 L143.29,406.80 L143.99,400.89 L144.69,394.76 L145.38,388.40 L146.08,381.84 L146.78,375.07 L147.48,368.11 L148.17,360.97 L148.87,353.67 L149.57,346.21 L150.26,338.62 L150.96,330.91 L151.66,323.10 L152.35,315.22 L153.05,307.28 L153.75,299.31 L154.44,291.33 L155.14,283.36 L155.84,275.43 L156.53,267.55 L157.23,259.74 L157.93,252.03 L158.63,244.44 L159.32,236.99 L160.02,229.69 L160.72,222.55 L161.41,215.59 L162.11,208.83 L162.81,202.27 L163.50,195.92 L164.20,189.79 L164.90,183.89 L165.59,178.21 L166.29,172.76 L166.99,167.54 L167.69,162.55 L168.38,157.79 L169.08,153.26 L169.78,148.95 L170.47,144.85 L171.17,140.97 L171.87,137.29 L172.56,133.81 L173.26,130.53 L173.96,127.43 L174.65,124.51 L175.35,121.76 L176.05,119.17 L176.75,116.74 L177.44,114.46 L178.14,112.33 L178.84,110.32 L179.53,108.45 L180.23,106.69 L180.93,105.05 L181.62,103.52 L182.32,102.09 L183.02,100.75 L183.71,99.50 L184.41,98.34 L185.11,97.26 L185.81,96.25 L186.50,95.32 L187.20,94.44 L187.90,93.63 L188.59,92.88 L189.29,92.18 L189.99,91.53 L190.68,90.93 L191.38,90.38 L192.08,89.86 L192.77,89.38 L193.47,88.94 L194.17,88.53 L194.87,88.16 L195.56,87.81 L196.26,87.49 L196.96,87.20 L197.65,86.93 L198.35,86.68 L199.05,86.46 L199.74,86.25 L200.44,86.06 L201.14,85.89 L201.83,85.74 L202.53,85.60 L203.23,85.47 L203.93,85.36 L204.62,85.26 L205.32,85.18 L206.02,85.10 L206.71,85.04 L207.41,84.98 L208.11,84.94 L208.80,84.90 L209.50,84.88 L210.20,84.86 L210.89,84.85 L211.59,84.84 L212.29,84.85 L212.99,84.86 L213.68,84.88 L214.38,84.90 L215.08,84.93 L215.77,84.97 L216.47,85.01 L217.17,85.06 L217.86,85.12 L218.56,85.18 L219.26,85.25 L219.95,85.32 L220.65,85.40 L221.35,85.49 L222.05,85.58 L222.74,85.68 L223.44,85.78 L224.14,85.89 L224.83,86.00 L225.53,86.12 L226.23,86.25 L226.92,86.38 L227.62,86.52 L228.32,86.67 L229.01,86.82 L229.71,86.98 L230.41,87.15 L231.10,87.32 L231.80,87.51 L232.50,87.70 L233.20,87.89 L233.89,88.10 L234.59,88.31 L235.29,88.53 L235.98,88.76 L236.68,89.00 L237.38,89.25 L238.07,89.51 L238.77,89.78 L239.47,90.06 L240.16,90.35 L240.86,90.65 L241.56,90.96 L242.26,91.29 L242.95,91.62 L243.65,91.97 L244.35,92.33 L245.04,92.70 L245.74,93.09 L246.44,93.50 L247.13,93.91 L247.83,94.35 L248.53,94.79 L249.22,95.26 L249.92,95.74 L250.62,96.24 L251.32,96.75 L252.01,97.29 L252.71,97.84 L253.41,98.42 L254.10,99.01 L254.80,99.62 L255.50,100.26 L256.19,100.92 L256.89,101.60 L257.59,102.30 L258.28,103.03 L258.98,103.79 L259.68,104.57 L260.38,105.38 L261.07,106.21 L261.77,107.07 L262.47,107.97 L263.16,108.89 L263.86,109.84 L264.56,110.82 L265.25,111.84 L265.95,112.89 L266.65,113.97 L267.34,115.09 L268.04,116.25 L268.74,117.44 L269.44,118.67 L270.13,119.94 L270.83,121.25 L271.53,122.60 L272.22,123.99 L272.92,125.42 L273.62,126.90 L274.31,128.42 L275.01,129.99 L275.71,131.60 L276.40,133.26 L277.10,134.97 L277.80,136.73 L278.50,138.53 L279.19,140.39 L279.89,142.30 L280.59,144.26 L281.28,146.27 L281.98,148.34 L282.68,150.46 L283.37,152.63 L284.07,154.87 L284.77,157.15 L285.46,159.49 L286.16,161.89 L286.86,164.35 L287.56,166.86 L288.25,169.43 L288.95,172.06 L289.65,174.75 L290.34,177.49 L291.04,180.29 L291.74,183.15 L292.43,186.07 L293.13,189.04 L293.83,192.06 L294.52,195.15 L295.22,198.29 L295.92,201.48 L296.62,204.72 L297.31,208.02 L298.01,211.37 L298.71,214.76 L299.40,218.21 L300.10,221.70 L300.80,225.24 L301.49,228.82 L302.19,232.45 L302.89,236.11 L303.58,239.82 L304.28,243.56 L304.98,247.33 L305.68,251.14 L306.37,254.97 L307.07,258.83 L307.77,262.72 L308.46,266.63 L309.16,270.56 L309.86,274.51 L310.55,278.47 L311.25,282.44 L311.95,286.42 L312.64,290.41 L313.34,294.40 L314.04,298.39 L314.73,302.38 L315.43,306.37 L316.13,310.35 L316.83,314.31 L317.52,318.27 L318.22,322.20 L318.92,326.12 L319.61,330.02 L320.31,333.89 L321.01,337.74 L321.70,341.56 L322.40,345.35 L323.10,349.10 L323.79,352.82 L324.49,356.51 L325.19,360.15 L325.89,363.75 L326.58,367.31 L327.28,370.82 L327.98,374.29 L328.67,377.71 L329.37,381.08 L330.07,384.40 L330.76,387.67 L331.46,390.88 L332.16,394.05 L332.85,397.15 L333.55,400.21 L334.25,403.20 L334.95,406.14 L335.64,409.03 L336.34,411.85 L337.04,414.62 L337.73,417.34 L338.43,419.99 L339.13,422.59 L339.82,425.13 L340.52,427.61 L341.22,430.03 L341.91,432.40 L342.61,434.71 L343.31,436.97 L344.01,439.17 L344.70,441.31 L345.40,443.40 L346.10,445.44 L346.79,447.43 L347.49,449.36 L348.19,451.24 L348.88,453.07 L349.58,454.85 L350.28,456.58 L350.97,458.26 L351.67,459.89 L352.37,461.48 L353.07,463.02 L353.76,464.52 L354.46,465.97 L355.16,467.38 L355.85,468.75 L356.55,470.08 L357.25,471.36 L357.94,472.61 L358.64,473.82 L359.34,474.99 L360.03,476.13 L360.73,477.23 L361.43,478.29 L362.13,479.32 L362.82,480.32 L363.52,481.29 L364.22,482.23 L364.91,483.13 L365.61,484.01 L366.31,484.86 L367.00,485.67 L367.70,486.47 L368.40,487.23 L369.09,487.98 L369.79,488.69 L370.49,489.38 L371.19,490.05 L371.88,490.70 L372.58,491.32 L373.28,491.93 L373.97,492.51 L374.67,493.08 L375.37,493.62 L376.06,494.14 L376.76,494.65 L377.46,495.14 L378.15,495.61 L378.85,496.07 L379.55,496.51 L380.25,496.94 L380.94,497.35 L381.64,497.74 L382.34,498.13 L383.03,498.50 L383.73,498.85 L384.43,499.20 L385.12,499.53 L385.82,499.85 L386.52,500.16 L387.21,500.45 L387.91,500.74 L388.61,501.02 L389.30,501.28 L390.00,501.54 L390.70,501.79 L391.40,502.03 L392.09,502.26 L392.79,502.48 L393.49,502.70 L394.18,502.90 L394.88,503.10 L395.58,503.30 L396.27,503.48 L396.97,503.66 L397.67,503.83 L398.36,504.00 L399.06,504.16 L399.76,504.31 L400.46,504.46 L401.15,504.61 L401.85,504.75 L402.55,504.88 L403.24,505.01 L403.94,505.13 L404.64,505.25 L405.33,505.37 L406.03,505.48 L406.73,505.58 L407.42,505.69 L408.12,505.79 L408.82,505.88 L409.52,505.97 L410.21,506.06 L410.91,506.15 L411.61,506.23 L412.30,506.31 L413.00,506.39 L413.70,506.46 L414.39,506.53 L415.09,506.60 L415.79,506.67 L416.48,506.73 L417.18,506.79 L417.88,506.85 L418.58,506.91 L419.27,506.97 L419.97,507.02 L420.67,507.07 L421.36,507.12 L422.06,507.17 L422.76,507.22 L423.45,507.26 L424.15,507.30 L424.85,507.34 L425.54,507.38 L426.24,507.42 L426.94,507.46 L427.64,507.50 L428.33,507.53 L429.03,507.57 L429.73,507.60 L430.42,507.63 L431.12,507.66 L431.82,507.69 L432.51,507.72 L433.21,507.75 L433.91,507.77 L434.60,507.80 L435.30,507.82 L436.00,507.85 L436.70,507.87 L437.39,507.90 L438.09,507.92 L438.79,507.94 L439.48,507.96 L440.18,507.98 L440.88,508.00 L441.57,508.02 L442.27,508.04 L442.97,508.06 L443.66,508.08 L444.36,508.10 L445.06,508.11 L445.76,508.13 L446.45,508.15 L447.15,508.16 L447.85,508.18 L448.54,508.19 L449.24,508.21 L449.94,508.22 L450.63,508.23 L451.33,508.24 L452.03,508.25 L452.72,508.26 L453.42,508.27 L454.12,508.28 L454.82,508.29 L455.51,508.30 L456.21,508.30 L456.91,508.31 L457.60,508.32 L458.30,508.33 L459.00,508.33 L459.69,508.34 L460.39,508.34 L461.09,508.35 L461.78,508.35 L462.48,508.35 L463.18,508.36 L463.87,508.36 L464.57,508.36 L465.27,508.37 L465.97,508.37 L466.66,508.37 L467.36,508.37 L468.06,508.37 L468.75,508.38 L469.45,508.38 L470.15,508.38 L470.84,508.38 L471.54,508.38 L472.24,508.38 L472.93,508.38 L473.63,508.39 L474.33,508.39 L475.03,508.39 L475.72,508.39 L476.42,508.39 L477.12,508.39 L477.81,508.39 L478.51,508.39 L479.21,508.39 L479.90,508.39 L480.60,508.39 L481.30,508.39 L481.99,508.39 L482.69,508.39 L483.39,508.39 L484.09,508.39 L484.78,508.39 L485.48,508.40 L486.18,508.40 L486.87,508.40 L487.57,508.40 L488.27,508.40 L488.96,508.40 L489.66,508.40 L490.36,508.40 L491.05,508.40 L491.75,508.40 L492.45,508.40 L493.15,508.40 L493.84,508.40 L494.54,508.40 L495.24,508.40 L495.93,508.40 L496.63,508.40 L497.33,508.40 L498.02,508.40 L498.72,508.40 L499.42,508.40 L500.11,508.40 L500.81,508.40 L501.51,508.40 L502.21,508.40 L502.90,508.40 L503.60,508.40 L504.30,508.40 L504.99,508.40 L505.69,508.40 L506.39,508.40 L507.08,508.40 L507.78,508.40 L508.48,508.40 L509.17,508.40 L509.87,508.40 L510.57,508.40 L511.27,508.40 L511.96,508.40 L512.66,508.40 L513.36,508.40 L514.05,508.40 L514.75,508.40 L515.45,508.40 L516.14,508.40 L516.84,508.40 L517.54,508.40 L518.23,508.40 L518.93,508.40 L519.63,508.40 L520.33,508.40 L521.02,508.40 L521.72,508.40 L522.42,508.40 L523.11,508.40 L523.81,508.40 L524.51,508.40 L525.20,508.40 L525.90,508.40 L526.60,508.40 L527.29,508.40 L527.99,508.40 L528.69,508.40 L529.39,508.40 L530.08,508.40 L530.78,508.40 L531.48,508.40 L532.17,508.40 L532.87,508.40 L533.57,508.40 L534.26,508.40 L534.96,508.40 L535.66,508.40 L536.35,508.40 L537.05,508.40 L537.75,508.40 L538.44,508.40 L539.14,508.40 L539.84,508.40 L540.54,508.40 L541.23,508.40 L541.93,508.40 L542.63,508.40 L543.32,508.40 L544.02,508.40 L544.72,508.40 L545.41,508.40 L546.11,508.40 L546.81,508.40 L547.50,508.40 L548.20,508.40 L548.90,508.40 L549.60,508.40 L550.29,508.40 L550.99,508.40 L551.69,508.40 L552.38,508.40 L553.08,508.40 L553.78,508.40 L554.47,508.40 L555.17,508.40 L555.87,508.40 L556.56,508.40 L557.26,508.40 L557.96,508.40 L558.66,508.40 L559.35,508.40 L560.05,508.40 L560.75,508.40 L561.44,508.40 L562.14,508.40 L562.84,508.40 L563.53,508.40 L564.23,508.40 L564.93,508.40 L565.62,508.40 L566.32,508.40 L567.02,508.40 L567.72,508.40 L568.41,508.40 L569.11,508.40 L569.81,508.40 L570.50,508.40 L571.20,508.40 L571.90,508.40 L572.59,508.40 L573.29,508.40 L573.99,508.40 L574.68,508.40 L575.38,508.40 L576.08,508.40 L576.78,508.40 L577.47,508.40 L578.17,508.40 L578.87,508.40 L579.56,508.40 L580.26,508.40 L580.96,508.40 L581.65,508.40 L582.35,508.40 L583.05,508.40 L583.74,508.40 L584.44,508.40 L585.14,508.40 L585.84,508.40 L586.53,508.40 L587.23,508.40 L587.93,508.40 L588.62,508.40 L589.32,508.40 L590.02,508.40 L590.71,508.40 L591.41,508.40 L592.11,508.40 L592.80,508.40 L593.50,508.40 L594.20,508.40 L594.90,508.40 L595.59,508.40 L596.29,508.40 L596.99,508.40 L597.68,508.40 L598.38,508.40 L599.08,508.40 L599.77,508.40 L600.47,508.40 L601.17,508.40 L601.86,508.40 L602.56,508.40 L603.26,508.40 L603.96,508.40 L604.65,508.40 L605.35,508.40 L606.05,508.40 L606.74,508.40 L607.44,508.40 L608.14,508.40 L608.83,508.40 L609.53,508.40 L610.23,508.40 L610.92,508.40 L611.62,508.40 L612.32,508.40 L613.02,508.40 L613.71,508.40 L614.41,508.40 L615.11,508.40 L615.80,508.40 L616.50,508.40 L617.20,508.40 L617.89,508.40 L618.59,508.40 L619.29,508.40 L619.98,508.40 L620.68,508.40 L621.38,508.40 L622.07,508.40 L622.77,508.40 L623.47,508.40 L624.17,508.40 L624.86,508.40 L625.56,508.40 L626.26,508.40 L626.95,508.40 L627.65,508.40 L628.35,508.40 L629.04,508.40 L629.74,508.40 L630.44,508.40 L631.13,508.40 L631.83,508.40 L632.53,508.40 L633.23,508.40 L633.92,508.40 L634.62,508.40 L635.32,508.40 L636.01,508.40 L636.71,508.40 L637.41,508.40 L638.10,508.40 L638.80,508.40 L639.50,508.40 L640.19,508.40 L640.89,508.40 L641.59,508.40 L642.29,508.40 L642.98,508.40 L643.68,508.40 L644.38,508.40 L645.07,508.40 L645.77,508.40 L646.47,508.40 L647.16,508.40 L647.86,508.40 L648.56,508.40 L649.25,508.40 L649.95,508.40 L650.65,508.40 L651.35,508.40 L652.04,508.40 L652.74,508.40 L653.44,508.40 L654.13,508.40 L654.83,508.40 L655.53,508.40 L656.22,508.40 L656.92,508.40 L657.62,508.40 L658.31,508.40 L659.01,508.40 L659.71,508.40 L660.41,508.40 L661.10,508.40 L661.80,508.40 L662.50,508.40 L663.19,508.40 L663.89,508.40 L664.59,508.40 L665.28,508.40 L665.98,508.40 L666.68,508.40 L667.37,508.40 L668.07,508.40 L668.77,508.40 L669.47,508.40 L670.16,508.40 L670.86,508.40 L671.56,508.40 L672.25,508.40 L672.95,508.40 L673.65,508.40 L674.34,508.40 L675.04,508.40 L675.74,508.40 L676.43,508.40 L677.13,508.40 L677.83,508.40 L678.53,508.40 L679.22,508.40 L679.92,508.40 L680.62,508.40 L681.31,508.40 L682.01,508.40 L682.71,508.40 L683.40,508.40 L684.10,508.40 L684.80,508.40 L685.49,508.40 L686.19,508.40 L686.89,508.40 L687.59,508.40 L688.28,508.40 L688.98,508.40 L689.68,508.40 L690.37,508.40 L691.07,508.40 L691.77,508.40 L692.46,508.40 L693.16,508.40 L693.86,508.40 L694.55,508.40 L695.25,508.40 L695.95,508.40 L696.64,508.40 L697.34,508.40 L698.04,508.40 L698.74,508.40 L699.43,508.40 L700.13,508.40 L700.83,508.40 L701.52,508.40 L702.22,508.40 L702.92,508.40 L703.61,508.40 L704.31,508.40 L705.01,508.40 L705.70,508.40 L706.40,508.40 L707.10,508.40 L707.80,508.40 L708.49,508.40 L709.19,508.40 L709.89,508.40 L710.58,508.40 L711.28,508.40 L711.98,508.40 L712.67,508.40 L713.37,508.40 L714.07,508.40 L714.76,508.40 L715.46,508.40 L716.16,508.40 L716.86,508.40 L717.55,508.40 L718.25,508.40 L718.95,508.40 L719.64,508.40 L720.34,508.40 L721.04,508.40 L721.73,508.40 L722.43,508.40 L723.13,508.40 L723.82,508.40 L724.52,508.40 L725.22,508.40 L725.92,508.40 L726.61,508.40 L727.31,508.40 L728.01,508.40 L728.70,508.40 L729.40,508.40 L730.10,508.40 L730.79,508.40 L731.49,508.40 L732.19,508.40 L732.88,508.40 L733.58,508.40 L734.28,508.40 L734.98,508.40 L735.67,508.40 L736.37,508.40 L737.07,508.40 L737.76,508.40 L738.46,508.40 L739.16,508.40 L739.85,508.40 L740.55,508.40 L741.25,508.40 L741.94,508.40 L742.64,508.40 L743.34,508.40 L744.04,508.40 L744.73,508.40 L745.43,508.40 L746.13,508.40 L746.82,508.40 L747.52,508.40 L748.22,508.40 L748.91,508.40 L749.61,508.40 L750.31,508.40 L751.00,508.40 L751.70,508.40 L752.40,508.40 L753.10,508.40 L753.79,508.40 L754.49,508.40 L755.19,508.40 L755.88,508.40 L756.58,508.40 L757.28,508.40 L757.97,508.40 L758.67,508.40 L759.37,508.40 L760.06,508.40 L760.76,508.40 L761.46,508.40 L762.16,508.40 L762.85,508.40 L763.55,508.40 L764.25,508.40 L764.94,508.40 L765.64,508.40 L766.34,508.40 L767.03,508.40 L767.73,508.40 L768.43,508.40 L769.12,508.40 L769.82,508.40 L770.52,508.40 L771.21,508.40 L771.91,508.40 L772.61,508.40 L773.31,508.40 L774.00,508.40 L774.70,508.40 L775.40,508.40 L776.09,508.40 L776.79,508.40 L777.49,508.40 L778.18,508.40 L778.88,508.40 L779.58,508.40 L780.27,508.40 L780.97,508.40" stroke="#EB6235"/>
</g>
<g stroke="#666" stroke-width="0.62" fill="none">
<line x1="1.1" y1="508.50" x2="794.9" y2="508.50"/>
<line x1="463.40" y1="42.2" x2="463.40" y2="532.6"/>
<line x1="17.00" y1="508.50" x2="17.00" y2="503.20"/>
<line x1="54.20" y1="508.50" x2="54.20" y2="503.20"/>
<line x1="91.40" y1="508.50" x2="91.40" y2="499.60"/>
<line x1="128.60" y1="508.50" x2="128.60" y2="503.20"/>
<line x1="165.80" y1="508.50" x2="165.80" y2="503.20"/>
<line x1="203.00" y1="508.50" x2="203.00" y2="503.20"/>
<line x1="240.20" y1="508.50" x2="240.20" y2="503.20"/>
<line x1="277.40" y1="508.50" x2="277.40" y2="499.60"/>
<line x1="314.60" y1="508.50" x2="314.60" y2="503.20"/>
<line x1="351.80" y1="508.50" x2="351.80" y2="503.20"/>
<line x1="389.00" y1="508.50" x2="389.00" y2="503.20"/>
<line x1="426.20" y1="508.50" x2="426.20" y2="503.20"/>
<line x1="500.60" y1="508.50" x2="500.60" y2="503.20"/>
<line x1="537.80" y1="508.50" x2="537.80" y2="503.20"/>
<line x1="575.00" y1="508.50" x2="575.00" y2="503.20"/>
<line x1="612.20" y1="508.50" x2="612.20" y2="503.20"/>
<line x1="649.40" y1="508.50" x2="649.40" y2="499.60"/>
<line x1="686.60" y1="508.50" x2="686.60" y2="503.20"/>
<line x1="723.80" y1="508.50" x2="723.80" y2="503.20"/>
<line x1="761.00" y1="508.50" x2="761.00" y2="503.20"/>
<line x1="463.40" y1="529.71" x2="468.70" y2="529.71"/>
<line x1="463.40" y1="487.09" x2="468.70" y2="487.09"/>
<line x1="463.40" y1="465.78" x2="468.70" y2="465.78"/>
<line x1="463.40" y1="444.47" x2="468.70" y2="444.47"/>
<line x1="463.40" y1="423.16" x2="472.30" y2="423.16"/>
<line x1="463.40" y1="401.85" x2="468.70" y2="401.85"/>
<line x1="463.40" y1="380.54" x2="468.70" y2="380.54"/>
<line x1="463.40" y1="359.23" x2="468.70" y2="359.23"/>
<line x1="463.40" y1="337.92" x2="472.30" y2="337.92"/>
<line x1="463.40" y1="316.61" x2="468.70" y2="316.61"/>
<line x1="463.40" y1="295.30" x2="468.70" y2="295.30"/>
<line x1="463.40" y1="273.99" x2="468.70" y2="273.99"/>
<line x1="463.40" y1="252.68" x2="472.30" y2="252.68"/>
<line x1="463.40" y1="231.37" x2="468.70" y2="231.37"/>
<line x1="463.40" y1="210.06" x2="468.70" y2="210.06"/>
<line x1="463.40" y1="188.75" x2="468.70" y2="188.75"/>
<line x1="463.40" y1="167.44" x2="472.30" y2="167.44"/>
<line x1="463.40" y1="146.13" x2="468.70" y2="146.13"/>
<line x1="463.40" y1="124.82" x2="468.70" y2="124.82"/>
<line x1="463.40" y1="103.51" x2="468.70" y2="103.51"/>
<line x1="463.40" y1="82.20" x2="472.30" y2="82.20"/>
<line x1="463.40" y1="60.89" x2="468.70" y2="60.89"/>
</g>
<g opacity="0.999">
<text transform="translate(90.9,536.8) scale(0.95,1)" font-size="23.8" text-anchor="middle" fill="#000">&#8722;20</text>
<text transform="translate(276.9,536.8) scale(0.95,1)" font-size="23.8" text-anchor="middle" fill="#000">&#8722;10</text>
<text transform="translate(649.4,536.8) scale(0.95,1)" font-size="23.8" text-anchor="middle" fill="#000">10</text>
<text transform="translate(455.8,89.9) scale(0.95,1)" font-size="23.8" text-anchor="end" fill="#000">1.0</text>
<text transform="translate(455.8,174.4) scale(0.95,1)" font-size="23.8" text-anchor="end" fill="#000">0.8</text>
<text transform="translate(455.8,260.2) scale(0.95,1)" font-size="23.8" text-anchor="end" fill="#000">0.6</text>
<text transform="translate(455.8,345.3) scale(0.95,1)" font-size="23.8" text-anchor="end" fill="#000">0.4</text>
<text transform="translate(455.8,431.1) scale(0.95,1)" font-size="23.8" text-anchor="end" fill="#000">0.2</text>
<text transform="translate(813.4,516.4) scale(1.0,1)" font-size="23.2" text-anchor="start" fill="#666">N</text>
<text transform="translate(448.2,21.0) scale(0.93,1)" font-size="24.4" text-anchor="start" fill="#666">&#937;</text>
<text transform="translate(465.8,26.9) scale(0.9,1)" font-size="22.0" text-anchor="start" fill="#666" font-style="italic">n</text>
<text transform="translate(197.8,128.7) scale(0.93,1)" font-size="24.4" text-anchor="start" fill="#000">&#937;</text>
<text transform="translate(215.6,133.7) scale(1.12,1)" font-size="20.6" text-anchor="start" fill="#000" font-style="italic">r</text>
<text transform="translate(394.2,128.7) scale(0.93,1)" font-size="24.4" text-anchor="start" fill="#000">&#937;</text>
<text transform="translate(412.0,133.7) scale(0.96,1)" font-size="20.6" text-anchor="start" fill="#000" font-style="italic">m</text>
<text transform="translate(755.8,132.4) scale(0.93,1)" font-size="24.4" text-anchor="start" fill="#000">&#937;</text>
<text transform="translate(773.4,139.0) scale(1.27,1)" font-size="20.6" text-anchor="start" fill="#000" font-style="italic">&#981;</text>
</g>
</svg>
</body></html>
